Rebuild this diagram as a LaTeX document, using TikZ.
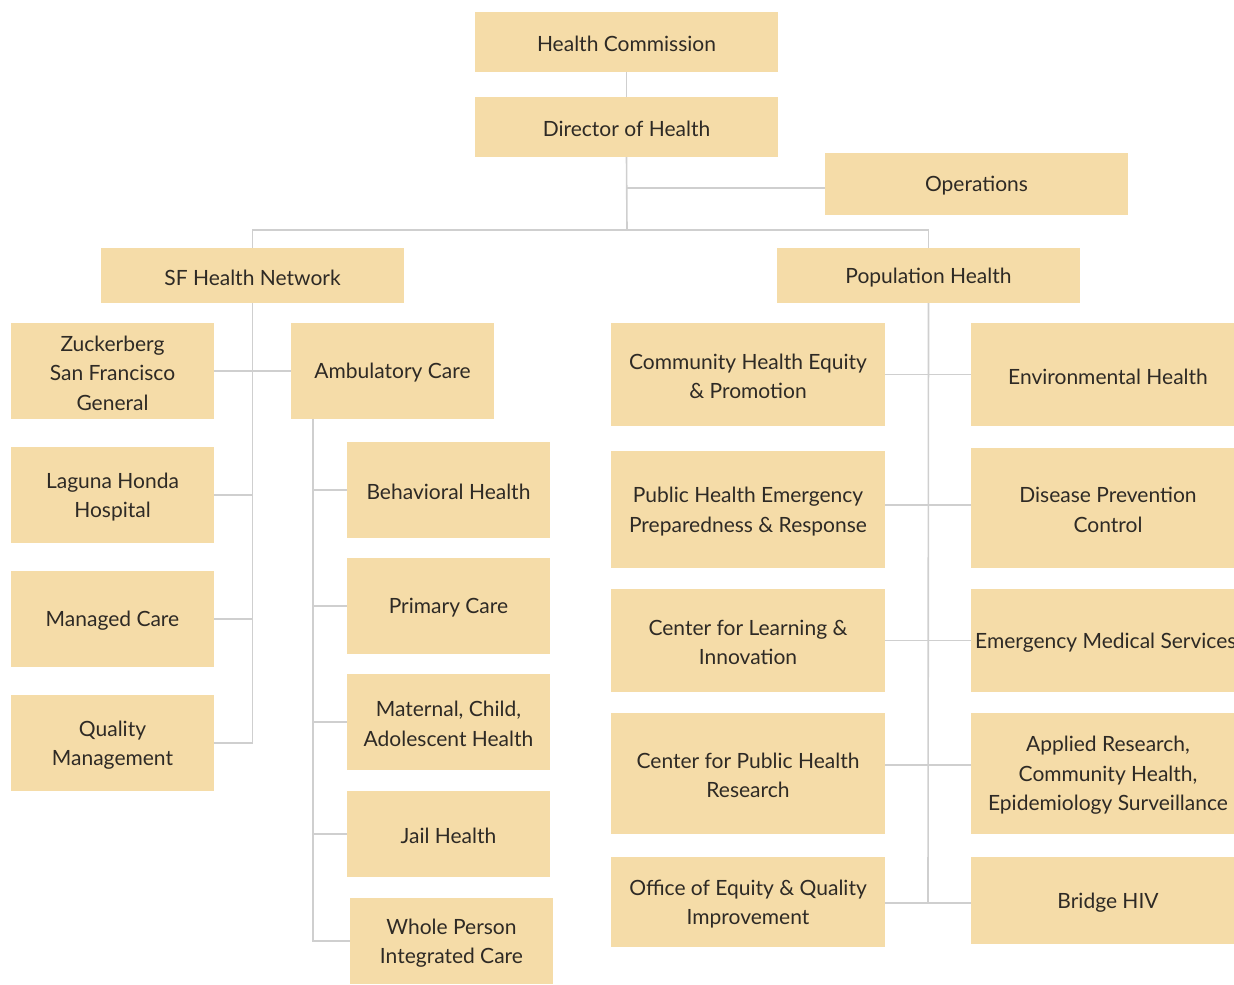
\documentclass[tikz,border=0pt]{standalone}
\usepackage{fontspec}
\setmainfont{Lato}
\definecolor{boxfill}{HTML}{F5DCA8}
\definecolor{linegray}{HTML}{CFCFCF}
\definecolor{txt}{HTML}{2E2A25}
\begin{document}
\begin{tikzpicture}[x=1pt,y=-1pt,
  box/.style={fill=boxfill, draw=none, inner sep=0pt},
  lbl/.style={inner sep=0pt, align=center, text=txt,
    font=\fontsize{21}{29.5}\selectfont},
  conn/.style={draw=linegray, line width=1.6pt}]
\useasboundingbox (0,0) rectangle (1234,985);
% helper: boxes by pixel extents, text slightly lowered
\newcommand{\bx}[6]{\node[box, minimum width={#4-#3}, minimum height={#6-#5}] (#1) at ({(#3+#4)/2},{(#5+#6)/2}) {};
  \node[lbl, yshift=-2pt] (#1t) at (#1.center) {#2};}
% top
\bx{hc}{Health Commission}{475}{778}{12}{72}
\bx{dh}{Director of Health}{475}{778}{97}{157}
\bx{ops}{Operations}{825}{1128}{153}{215}
\bx{sfn}{SF Health Network}{101}{404}{248}{303}
\bx{ph}{Population Health}{777}{1080}{248}{303}
% SF network
\bx{zsfg}{Zuckerberg\\San Francisco\\General}{11}{214}{323}{419}
\bx{amb}{Ambulatory Care}{291}{494}{323}{419}
\bx{lh}{Laguna Honda\\Hospital}{11}{214}{447}{543}
\bx{mc}{Managed Care}{11}{214}{571}{667}
\bx{qm}{Quality\\Management}{11}{214}{695}{791}
% ambulatory
\bx{bh}{Behavioral Health}{347}{550}{442}{538}
\bx{pc}{Primary Care}{347}{550}{558}{654}
\bx{mch}{Maternal, Child,\\Adolescent Health}{347}{550}{674}{770}
\bx{jh}{Jail Health}{347}{550}{791}{877}
\bx{wp}{Whole Person\\Integrated Care}{350}{553}{898}{984}
% population health
\bx{che}{Community Health Equity\\\& Promotion}{611}{885}{323}{426}
\bx{env}{Environmental Health}{971}{1245}{323}{426}
\bx{phep}{Public Health Emergency\\Preparedness \& Response}{611}{885}{451}{568}
\bx{dpc}{Disease Prevention\\Control}{971}{1245}{448}{568}
\bx{cli}{Center for Learning \&\\Innovation}{611}{885}{589}{692}
\node[box, minimum width=274, minimum height=103] (ems) at (1108,640.5) {};
\node[lbl, anchor=west] (emst) at (975,643) {Emergency Medical Services};
\bx{cphr}{Center for Public Health\\Research}{611}{885}{713}{834}
\bx{arc}{Applied Research,\\Community Health,\\Epidemiology Surveillance}{971}{1245}{713}{834}
\bx{oeq}{Office of Equity \& Quality\\Improvement}{611}{885}{857}{947}
\bx{bhiv}{Bridge HIV}{971}{1245}{857}{944}
% connectors
\draw[conn] (hc.south) -- (dh.north);
\coordinate (top) at (627,230);
\coordinate (opsj) at (627,188);
\draw[conn] (dh.south) -- (top);
\draw[conn] (opsj) -- (opsj -| ops.west);
\draw[conn] (sfn.north) |- (top) -| (ph.north);
% SF
\draw[conn] (sfn.south) -- (sfn.south |- qm.east) -- (qm.east);
\draw[conn] (zsfg.east) -- (amb.west);
\draw[conn] (lh.east) -- (lh.east -| sfn.south);
\draw[conn] (mc.east) -- (mc.east -| sfn.south);
% ambulatory
\coordinate (ambs) at (313,419);
\draw[conn] (ambs) |- (wp.west);
\draw[conn] (bh.west) -- (bh.west -| ambs);
\draw[conn] (pc.west) -- (pc.west -| ambs);
\draw[conn] (mch.west) -- (mch.west -| ambs);
\draw[conn] (jh.west) -- (jh.west -| ambs);
% population
\coordinate (pend) at (928,903);
\draw[conn] (ph.south) -- (pend);
\draw[conn] (che.east) -- (che.east -| env.west);
\draw[conn] (885,505) -- (971,505);
\draw[conn] (cli.east) -- (cli.east -| ems.west);
\draw[conn] (885,765) -- (971,765);
\draw[conn] (oeq.east |- pend) -- (bhiv.west |- pend);
\end{tikzpicture}
\end{document}
